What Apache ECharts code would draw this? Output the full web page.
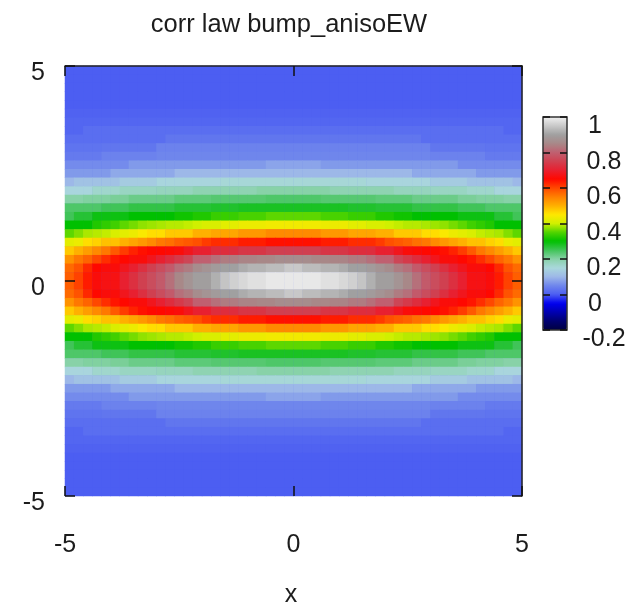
<!DOCTYPE html>
<html>
<head>
<meta charset="utf-8">
<style>html,body{margin:0;padding:0;background:#fff}#c{width:637px;height:602px;filter:blur(0.4px)}</style>
<script src="https://cdn.jsdelivr.net/npm/echarts@6/dist/echarts.min.js"></script>
</head>
<body>
<div id="c"></div>
<script>
// Top-left quadrant (the surface is symmetric about x=0 and y=0)
const quadrant = [
[0,0,0,0,0,0,0,0,0,0,0,0,0,0,0,0,0,0,0,0,0,0,0,0,0],
[0,0,0,0,0,0,0,0,0,0,0,0,0,0,0,0,0,0,0,0,0,0,0,0,0],
[0,0,0,0,0,0,0,0,0,0,0,0,0,0,0,0,0,0,0,0,0,0,0,0,0],
[0,0,0,0,0,0,0,0,0,0,0,0,0,0,0,0,0,0,0,0,0,0,0,0,0],
[0,0,0,0,0,0,0,0,0,0,0,0,0,0,0,0,0,0,0,0,0,0,0,0,0],
[.005,.005,.005,.005,.005,.005,.005,.005,.005,.005,.005,.005,.005,.005,.005,.005,.005,.005,.005,.005,.005,.005,.005,.005,.005],
[.01,.01,.01,.01,.01,.01,.01,.01,.01,.01,.01,.01,.01,.01,.01,.01,.01,.01,.01,.01,.01,.01,.01,.01,.01],
[.01,.01,.02,.02,.02,.02,.02,.02,.02,.02,.02,.02,.02,.02,.02,.02,.02,.02,.02,.02,.02,.02,.02,.02,.02],
[.02,.02,.02,.02,.02,.02,.02,.02,.02,.02,.02,.03,.03,.03,.03,.03,.03,.03,.03,.03,.03,.03,.03,.03,.03],
[.027,.027,.027,.027,.03,.03,.03,.03,.03,.03,.045,.045,.045,.045,.045,.045,.045,.045,.045,.045,.045,.045,.045,.045,.045],
[.035,.035,.035,.035,.045,.045,.045,.045,.045,.045,.05,.05,.05,.05,.05,.05,.05,.05,.05,.05,.05,.05,.05,.05,.05],
[.055,.055,.055,.055,.055,.055,.055,.07,.07,.07,.07,.07,.07,.07,.07,.07,.07,.07,.07,.07,.07,.07,.08,.08,.08],
[.07,.07,.07,.07,.07,.085,.085,.085,.085,.085,.085,.085,.1,.1,.1,.1,.1,.1,.1,.1,.1,.1,.1,.1,.1],
[.1,.115,.115,.115,.115,.115,.13,.13,.13,.13,.145,.145,.145,.145,.145,.145,.145,.155,.155,.155,.155,.155,.155,.155,.155],
[.145,.145,.145,.165,.165,.165,.175,.175,.175,.175,.18,.18,.18,.18,.19,.19,.19,.19,.19,.19,.19,.2,.2,.2,.2],
[.2,.2,.205,.205,.205,.21,.21,.22,.22,.22,.22,.22,.23,.23,.23,.23,.235,.235,.235,.235,.235,.235,.24,.24,.24],
[.24,.24,.24,.24,.25,.25,.25,.26,.26,.26,.26,.26,.27,.27,.27,.27,.275,.275,.275,.28,.28,.28,.28,.28,.28],
[.25,.27,.27,.29,.29,.29,.29,.3,.3,.3,.3,.3,.31,.31,.32,.32,.335,.335,.335,.345,.345,.345,.355,.355,.355],
[.3,.3,.3,.32,.33,.34,.355,.365,.375,.38,.385,.39,.39,.395,.4,.41,.41,.42,.42,.43,.43,.43,.435,.435,.435],
[.355,.37,.385,.39,.395,.41,.42,.43,.445,.46,.46,.478,.478,.478,.5,.5,.51,.51,.51,.525,.525,.525,.54,.54,.54],
[.42,.43,.46,.47,.485,.485,.5,.513,.525,.54,.557,.564,.578,.585,.593,.61,.622,.622,.622,.634,.634,.634,.644,.644,.644],
[.478,.5,.52,.54,.557,.585,.61,.63,.644,.65,.65,.655,.66,.68,.7,.7,.72,.72,.72,.735,.735,.735,.75,.75,.75],
[.53,.557,.575,.6,.62,.64,.65,.66,.66,.68,.7,.72,.74,.76,.8,.8,.82,.835,.835,.845,.845,.85,.85,.86,.86],
[.57,.59,.625,.65,.66,.66,.68,.7,.725,.75,.77,.79,.82,.835,.86,.875,.89,.9,.9,.915,.925,.925,.935,.935,.95],
[.58,.605,.635,.66,.67,.67,.7,.725,.75,.77,.79,.82,.85,.875,.895,.895,.92,.945,.96,.97,.98,.98,.99,.99,.99]
];
// Palette, evenly spaced from -0.2 to 1 in steps of 0.05
const paletteColors = ['#000040','#000070','#0000b0','#0000f0','#4c5ef2','#6f86ec','#9db8e8','#aad8dc','#88d2a8','#40c458','#00c000','#50d400','#d0f000','#ffe800','#ffb000','#ff8000','#ff4800','#ff0800','#e82030','#d04050','#c06070','#a88888','#a0a0a0','#c8c8c8','#f0f0f0'];
const titleText = 'corr law bump_anisoEW';
const xName = 'x';
const barTicks = ['-0.2','0','0.2','0.4','0.6','0.8','1'];
const narrowBarTicks = ['0','1'];

const fullRows = quadrant.concat(quadrant.slice().reverse()).map(r => r.concat(r.slice().reverse()));
const cols = fullRows[0].map((_, i) => String(i));
const rowsIdx = fullRows.map((_, i) => String(i));
const cells = [];
fullRows.forEach((r, y) => r.forEach((v, x) => cells.push([x, y, v])));

const ink = '#1c1c1c';
const F = 'Liberation Sans, Arial, sans-serif';
const plot = {left: 65, top: 66, width: 457, height: 430, outerBoundsMode: 'none'};
const bar = {left: 543, top: 117, width: 24, height: 213, outerBoundsMode: 'none'};
const txt = {color: ink, fontFamily: F, fontSize: 25};

const plotAxis = (extra) => Object.assign({
  type: 'value', min: -5, max: 5, interval: 5, z: 10, gridIndex: 1,
  splitLine: {show: false},
  axisLine: {show: false, onZero: false},
  axisTick: {show: true, inside: true, length: 10, lineStyle: {color: '#111', width: 1.5}},
  axisLabel: {show: false}
}, extra);

const chart = echarts.init(document.getElementById('c'), null, {renderer: 'canvas'});
chart.setOption({
  animation: false,
  backgroundColor: '#fff',
  title: {text: titleText, left: 289, top: 12, padding: 0, textAlign: 'center',
    textStyle: {color: ink, fontFamily: F, fontSize: 25.5, fontWeight: 'normal'}},
  grid: [
    Object.assign({show: true, backgroundColor: paletteColors[4], borderWidth: 0}, plot),
    Object.assign({z: 8}, plot),
    Object.assign({z: 8, show: true, borderColor: '#333', borderWidth: 1.5, backgroundColor: 'transparent'}, bar)
  ],
  xAxis: [
    {type: 'category', gridIndex: 0, data: cols, show: false},
    plotAxis({position: 'bottom', axisLabel: Object.assign({show: true, margin: 37}, txt),
      name: xName, nameLocation: 'middle', nameGap: 87, nameTextStyle: Object.assign({padding: [0, 5, 0, 0]}, txt)}),
    plotAxis({position: 'top', axisLine: {show: true, onZero: false, lineStyle: {color: '#222', width: 1.5}}}),
    {type: 'category', gridIndex: 2, data: ['c'], show: false}
  ],
  yAxis: [
    {type: 'category', gridIndex: 0, data: rowsIdx, show: false, inverse: true},
    plotAxis({position: 'left', axisLabel: Object.assign({show: true, margin: 20, formatter: v => '{a|' + v + '}',
      rich: {a: Object.assign({padding: [15, 0, 0, 0]}, txt)}}, txt)}),
    plotAxis({position: 'right', axisLine: {show: true, onZero: false, lineStyle: {color: '#222', width: 1.5}}}),
    {type: 'value', gridIndex: 2, position: 'left', min: -0.2, max: 1, interval: 0.2, z: 10,
      splitLine: {show: false}, axisLine: {show: false, onZero: false}, axisLabel: {show: false},
      axisTick: {show: true, inside: true, length: 7, lineStyle: {color: '#111', width: 1.5}}},
    {type: 'value', gridIndex: 2, position: 'right', min: -0.2, max: 1, interval: 0.2, z: 10,
      splitLine: {show: false}, axisLine: {show: false, onZero: false},
      axisTick: {show: true, inside: true, length: 7, lineStyle: {color: '#111', width: 1.5}},
      axisLabel: Object.assign({show: true, margin: 37, align: 'center',
        formatter: (v, i) => (narrowBarTicks.includes(barTicks[i]) ? '{s|' : '{n|') + barTicks[i] + '}',
        rich: {n: Object.assign({padding: [19, 0, 0, 0]}, txt), s: Object.assign({padding: [19, 18, 0, 0]}, txt)}}, txt)}
  ],
  visualMap: {
    type: 'continuous', seriesIndex: 0, min: -0.2, max: 1, show: true, calculable: false, hoverLink: false,
    left: bar.left, top: bar.top, itemWidth: bar.width, itemHeight: bar.height, padding: 0,
    showLabel: false, text: null, inRange: {color: paletteColors}
  },
  series: [{
    type: 'heatmap', xAxisIndex: 0, yAxisIndex: 0, data: cells, progressive: 0,
    silent: true, emphasis: {disabled: true}, itemStyle: {borderWidth: 0}
  }]
});
</script>
</body>
</html>
